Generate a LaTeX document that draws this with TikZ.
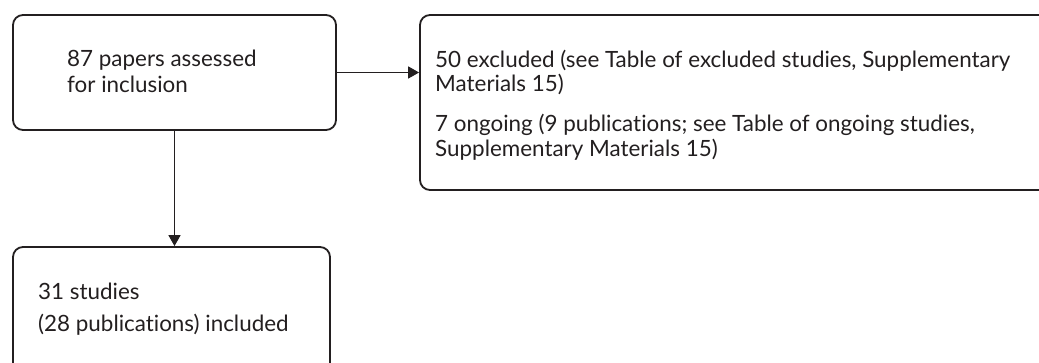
\documentclass[tikz,border=0pt]{standalone}
\usepackage{fontspec}
\setmainfont{Lato}[Ligatures={NoCommon}]
\usetikzlibrary{arrows.meta}
\definecolor{ink}{HTML}{231F20}
\begin{document}
\begin{tikzpicture}[x=1pt,y=-1pt,
  flowbox/.style={draw=ink, line width=1.8pt, rounded corners=10pt,
    rectangle, inner sep=0pt},
  label/.style={anchor=base west, inner sep=0pt, text=ink,
    font=\fontsize{22.4}{26}\selectfont},
  link/.style={draw=ink, line width=1.6pt,
    -{Triangle[length=11pt,width=12pt]}}]
  \useasboundingbox (0,0) rectangle (1039,363);
  \clip (0,0) rectangle (1039,363);
  \fill[white] (0,0) rectangle (1039,363);

  % boxes (the right box and the lower box run past the frame)
  \node[flowbox, minimum width=323pt, minimum height=115pt] (assessed) at (174.5,72.5) {};
  \node[flowbox, minimum width=640pt, minimum height=175pt] (excluded) at (740,102.5) {};
  \node[flowbox, minimum width=317pt, minimum height=130pt] (included) at (171.5,312) {};

  % texts
  \node[label] (t1a) at (67,67) {87 papers assessed};
  \node[label] (t1b) at (67,93) {for inclusion};
  \node[label] (t2a) at (435,68) {50 excluded (see Table of excluded studies, Supplementary};
  \node[label] (t2b) at (435,92) {Materials 15)};
  \node[label] (t2c) at (435,132) {7 ongoing (9 publications; see Table of ongoing studies,};
  \node[label] (t2d) at (435,157) {Supplementary Materials 15)};
  \node[label] (t3a) at (38,300) {31 studies};
  \node[label] (t3b) at (38,332) {(28 publications) included};

  % connectors
  \draw[link] (assessed.east) -- (assessed.east -| excluded.west);
  \draw[link] (assessed.south) -- (assessed.south |- included.north);
\end{tikzpicture}
\end{document}
